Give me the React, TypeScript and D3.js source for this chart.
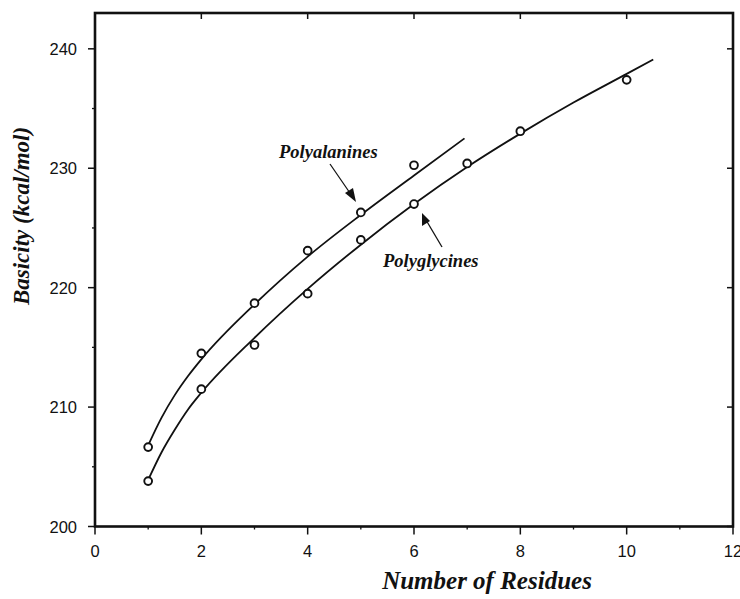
import React from 'react'
import * as d3 from 'd3'

// measured points (number of residues vs basicity, kcal/mol)
const alaN = [1, 2, 3, 4, 5, 6]
const alaB = [206.65, 214.5, 218.7, 223.1, 226.3, 230.25]
const glyN = [1, 2, 3, 4, 5, 6, 7, 8, 10]
const glyB = [203.8, 211.5, 215.2, 219.5, 224.0, 227.0, 230.4, 233.1, 237.4]

// fitted curves
const alaFitN = [1, 1.25, 1.5, 1.75, 2, 3, 4, 5, 6, 6.95]
const alaFitB = [206.8, 209.1, 211.0, 212.6, 214.0, 218.6, 222.6, 226.1, 229.4, 232.5]
const glyFitN = [1, 1.25, 1.5, 1.75, 2, 3, 4, 5, 6, 7, 8, 9, 10, 10.5]
const glyFitB = [203.9, 206.2, 208.1, 209.8, 211.2, 215.8, 219.9, 223.6, 227.0, 230.1, 232.9, 235.5, 237.9, 239.1]

const xTicks = [0, 2, 4, 6, 8, 10, 12]
const xMinor = [1, 3, 5, 7, 9, 11]
const yTicks = [200, 210, 220, 230, 240]
const yMinor = [205, 215, 225, 235]

const zip = (a: number[], b: number[]) => a.map((v, i) => [v, b[i]] as [number, number])

export default function App() {
  const width = 740,
    height = 599
  const left = 95,
    right = 733,
    top = 13,
    bottom = 526.5

  const x = d3.scaleLinear().domain([0, 12]).range([left, right])
  const y = d3.scaleLinear().domain([200, 243]).range([bottom, top])

  const line = d3
    .line<[number, number]>()
    .x(d => x(d[0]))
    .y(d => y(d[1]))
    .curve(d3.curveMonotoneX)

  const serif = "'Liberation Serif', 'Times New Roman', serif"
  const sans = "'Liberation Sans', Arial, sans-serif"

  return (
    <svg
      width={width}
      height={height}
      style={{ position: 'absolute', left: 0, top: 0, background: '#fff' }}
    >
      <g stroke="#111" fill="none">
        {/* fitted curves */}
        <path d={line(zip(alaFitN, alaFitB)) || ''} strokeWidth={1.8} />
        <path d={line(zip(glyFitN, glyFitB)) || ''} strokeWidth={1.8} />

        {/* frame */}
        <rect x={left} y={top} width={right - left} height={bottom - top} strokeWidth={2.6} />

        {/* bottom / top ticks */}
        {xTicks.map(d => (
          <g key={'xt' + d}>
            <line x1={x(d)} x2={x(d)} y1={bottom} y2={bottom + 8} strokeWidth={1.5} />
            <line x1={x(d)} x2={x(d)} y1={top} y2={top + 6} strokeWidth={1.5} />
          </g>
        ))}
        {xMinor.map(d => (
          <line key={'xm' + d} x1={x(d)} x2={x(d)} y1={bottom} y2={bottom + 3} strokeWidth={1.3} />
        ))}

        {/* left / right ticks */}
        {yTicks.map(d => (
          <g key={'yt' + d}>
            <line x1={left - 7} x2={left} y1={y(d)} y2={y(d)} strokeWidth={1.5} />
            <line x1={right - 6} x2={right} y1={y(d)} y2={y(d)} strokeWidth={1.5} />
          </g>
        ))}
        {yMinor.map(d => (
          <line key={'ym' + d} x1={left - 3} x2={left} y1={y(d)} y2={y(d)} strokeWidth={1.3} />
        ))}

        {/* data points */}
        {zip(alaN, alaB).map((d, i) => (
          <circle key={'a' + i} cx={x(d[0])} cy={y(d[1])} r={3.9} strokeWidth={1.9} fill="#fff" />
        ))}
        {zip(glyN, glyB).map((d, i) => (
          <circle key={'g' + i} cx={x(d[0])} cy={y(d[1])} r={3.9} strokeWidth={1.9} fill="#fff" />
        ))}

        {/* annotation arrows */}
        <line x1={330} y1={164} x2={352} y2={196} strokeWidth={1.3} />
        <line x1={442} y1={247} x2={426} y2={220} strokeWidth={1.3} />
      </g>
      <g fill="#111">
        <path d="M356,202 L345,193 L353,188 Z" />
        <path d="M422,213 L422,226 L430,221 Z" />
      </g>

      {/* tick labels */}
      <g fontFamily={sans} fontSize={16.5} fill="#111" textAnchor="middle">
        {xTicks.map(d => (
          <text key={'xl' + d} x={x(d)} y={557}>
            {d}
          </text>
        ))}
      </g>
      <g fontFamily={sans} fontSize={16.5} fill="#111" textAnchor="end">
        {yTicks.map(d => (
          <text key={'yl' + d} x={77} y={y(d) + 6}>
            {d}
          </text>
        ))}
      </g>

      {/* series labels */}
      <g fontFamily={serif} fontStyle="italic" fontWeight="bold" fill="#111" fontSize={18.5}>
        <text x={279} y={158}>
          Polyalanines
        </text>
        <text x={383} y={267}>
          Polyglycines
        </text>
      </g>

      {/* axis titles */}
      <g fontFamily={serif} fontStyle="italic" fontWeight="bold" fill="#111">
        <text x={487} y={589} textAnchor="middle" fontSize={25}>
          Number of Residues
        </text>
        <text transform="translate(29,216) rotate(-90)" textAnchor="middle" fontSize={23}>
          Basicity (kcal/mol)
        </text>
      </g>
    </svg>
  )
}
